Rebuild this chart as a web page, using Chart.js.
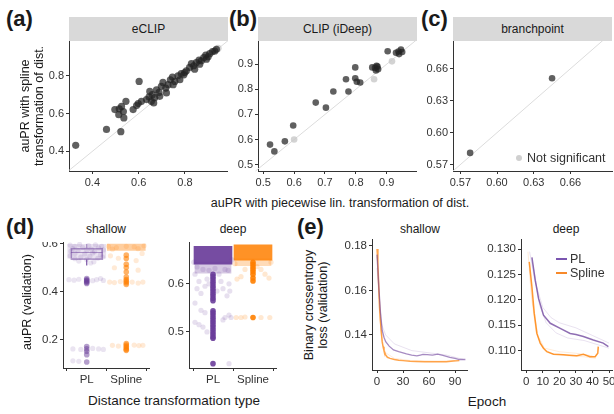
<!DOCTYPE html>
<html><head><meta charset="utf-8">
<script src="https://cdn.jsdelivr.net/npm/chart.js@4.4.1/dist/chart.umd.min.js"></script>
<style>
body{margin:0;background:#fff;}
#fig{position:relative;width:614px;height:414px;overflow:hidden;font-family:'Liberation Sans',Arial,sans-serif;color:#1a1a1a;}
canvas{position:absolute;}
.t{position:absolute;white-space:nowrap;line-height:1;}
.strip{position:absolute;top:17px;height:24px;line-height:24px;background:#d9d9d9;text-align:center;font-size:12px;color:#1a1a1a;}
.lt{font-weight:bold;font-size:22px;}
.rot{transform:translate(-50%,-50%) rotate(-90deg);text-align:center;}
.ctr{transform:translate(-50%,-50%);}
</style></head>
<body>
<div id="fig">
  <canvas id="ca" width="188" height="150" style="left:40px;top:41px"></canvas>
  <canvas id="cb" width="188" height="150" style="left:229px;top:41px"></canvas>
  <canvas id="cc" width="195" height="150" style="left:419px;top:41px"></canvas>
  <canvas id="cd1" width="117" height="146" style="left:33px;top:242px"></canvas>
  <canvas id="cd2" width="118" height="146" style="left:159px;top:242px"></canvas>
  <canvas id="ce1" width="130" height="151" style="left:338px;top:239px"></canvas>
  <canvas id="ce2" width="133" height="151" style="left:481px;top:239px"></canvas>

  <div class="strip" style="left:69px;width:159px">eCLIP</div>
  <div class="strip" style="left:258px;width:159px">CLIP (iDeep)</div>
  <div class="strip" style="left:453px;width:159px">branchpoint</div>

  <div class="t lt" style="left:6px;top:8px">(a)</div>
  <div class="t lt" style="left:229px;top:8px">(b)</div>
  <div class="t lt" style="left:421px;top:8px">(c)</div>
  <div class="t lt" style="left:6px;top:216px">(d)</div>
  <div class="t lt" style="left:297px;top:216px">(e)</div>

  <div class="t rot" style="left:32px;top:106px;font-size:12.5px;line-height:14px">auPR with spline<br>transformation of dist.</div>
  <div class="t ctr" style="left:340px;top:203px;font-size:12.5px">auPR with piecewise lin. transformation of dist.</div>

  <div class="t ctr" style="left:106px;top:229px;font-size:12px">shallow</div>
  <div class="t ctr" style="left:233px;top:229px;font-size:12px">deep</div>
  <div class="t rot" style="left:27px;top:302px;font-size:12.5px">auPR (validation)</div>
  <div class="t ctr" style="left:174px;top:401px;font-size:13.5px">Distance transformation type</div>

  <div class="t ctr" style="left:420px;top:229px;font-size:12px">shallow</div>
  <div class="t ctr" style="left:566px;top:229px;font-size:12px">deep</div>
  <div class="t rot" style="left:316px;top:305px;font-size:12.5px;line-height:14px">Binary crossentropy<br>loss (validation)</div>
  <div class="t ctr" style="left:487px;top:402px;font-size:13.5px">Epoch</div>

  <div style="position:absolute;left:516px;top:155px;width:6px;height:6px;border-radius:3px;background:#d0d0d0"></div>
  <div class="t" style="left:527px;top:152px;font-size:12.5px;color:#333">Not significant</div>

  <div style="position:absolute;left:556px;top:258px;width:11px;height:2px;background:#7a55b0"></div>
  <div class="t" style="left:570px;top:253px;font-size:12.5px;color:#333">PL</div>
  <div style="position:absolute;left:556px;top:272px;width:11px;height:2px;background:#f7892a"></div>
  <div class="t" style="left:570px;top:267px;font-size:12.5px;color:#333">Spline</div>
</div>
<script>
// ---- (a) eCLIP: auPR piecewise linear (x) vs spline (y)
const eclipPL = [0.328,0.461,0.523,0.602,0.497,0.516,0.534,0.514,0.536,0.545,0.526,0.576,0.591,0.598,
  0.612,0.634,0.645,0.648,0.659,0.669,0.677,0.688,0.698,0.705,0.717,0.727,0.737,0.746,0.756,0.770,
  0.784,0.795,0.806,0.820,0.828,0.838,0.849,0.861,0.871,0.881,0.890,0.900,0.907,0.919,0.929,0.936,
  0.655,0.665,0.691,0.720,0.749,0.778,0.799,0.842,0.864,0.893];
const eclipSpline = [0.432,0.516,0.504,0.770,0.621,0.625,0.611,0.594,0.577,0.665,0.638,0.621,0.642,0.653,
  0.665,0.674,0.688,0.717,0.700,0.684,0.726,0.712,0.744,0.765,0.735,0.753,0.779,0.793,0.770,0.800,
  0.812,0.805,0.826,0.844,0.865,0.853,0.870,0.883,0.879,0.896,0.910,0.900,0.917,0.928,0.931,0.940,
  0.665,0.656,0.691,0.709,0.753,0.779,0.817,0.835,0.861,0.888];
const eclipNsPL = [0.943];
const eclipNsSpline = [0.945];

// ---- (b) CLIP (iDeep)
const ideepPL = [0.522,0.536,0.570,0.597,0.670,0.703,0.727,0.768,0.776,0.798,0.798,0.803,0.814,
  0.853,0.862,0.867,0.870,0.865,0.872,0.903,0.930,0.938,0.946,0.940,0.950];
const ideepSpline = [0.580,0.553,0.593,0.656,0.747,0.727,0.791,0.840,0.791,0.887,0.844,0.830,0.827,
  0.887,0.885,0.893,0.890,0.875,0.880,0.951,0.945,0.950,0.958,0.940,0.948];
const ideepNsPL = [0.600,0.859,0.917];
const ideepNsSpline = [0.600,0.840,0.911];

// ---- (c) branchpoint
const branchPL = [0.578,0.645];
const branchSpline = [0.581,0.651];

const aTicks = ['0.4','0.6','0.8'];
const bTicks = ['0.5','0.6','0.7','0.8','0.9'];
const bTicksY = ['0.5','0.6','0.7','0.8','0.9'];
const cTicks = ['0.57','0.60','0.63','0.66'];

// ---- (d) auPR (validation) per distance transformation type, points as [jitter, auPR]
const dTypes = ['PL','Spline'];
const dShallowTicks = ['0.2','0.4','0.6'];
const dDeepTicks = ['0.5','0.6'];
const shallowPLBox = [0.510,0.534,0.564,0.582,0.600]; // min, q1, median, q3, max
const shallowPLCol = [0.455,0.450,0.446,0.442,0.438,0.434,0.170,0.160,0.150,0.136,0.105];
const shallowPLLight = [[-0.42,0.595],[-0.3,0.59],[-0.18,0.598],[0.05,0.593],[0.22,0.596],[0.38,0.59],
  [-0.35,0.58],[-0.1,0.585],[0.12,0.578],[0.3,0.583],[-0.4,0.57],[-0.22,0.572],[0,0.575],[0.2,0.568],
  [0.42,0.575],[-0.3,0.56],[-0.05,0.558],[0.15,0.562],[0.35,0.555],[-0.42,0.55],[-0.15,0.545],
  [0.08,0.548],[0.28,0.54],[-0.3,0.538],[0,0.535],[0.4,0.545],[-0.2,0.528],[0.18,0.525],[0.1,0.52],
  [-0.45,0.45],[-0.32,0.448],[-0.2,0.452],[0.15,0.446],[0.25,0.45],[0.35,0.455],[0.42,0.447],
  [-0.35,0.16],[-0.15,0.158],[0.15,0.162],[0.3,0.16],[0.42,0.158],[-0.35,0.11],[-0.2,0.108]];
const shallowPLBand = [0.540,0.598];
const shallowSplineBand = [0.573,0.599];
const shallowSplineCol = [0.553,0.539,0.515,0.501,0.482,0.461,0.451,0.444,0.437,0.430,
  0.182,0.176,0.170,0.164,0.158,0.154];
const shallowSplineLight = [[-0.4,0.55],[-0.2,0.54],[0.25,0.53],[0.4,0.56],[-0.3,0.5],[0.3,0.49],
  [-0.42,0.44],[-0.3,0.438],[-0.15,0.442],[0.15,0.44],[0.3,0.436],[0.42,0.44],
  [-0.35,0.175],[-0.2,0.172],[0.2,0.176],[0.32,0.174],[0.42,0.175],
  [-0.45,0.59],[-0.25,0.585],[0,0.59],[0.2,0.588],[0.45,0.592],[-0.35,0.578],[0.3,0.58]];

const deepPLBand = [0.641,0.678];
const deepPLFade = [0.622,0.645];
const deepPLCol = [0.620,0.615,0.610,0.605,0.600,0.595,0.590,0.585,0.580,0.575,0.570,0.565,
  0.544,0.540,0.535,0.530,0.525,0.520,0.515,0.510,0.505,0.500,0.495,0.490,0.487,0.434];
const deepPLLight = [[-0.45,0.62],[-0.35,0.605],[-0.25,0.63],[-0.15,0.61],[0.15,0.62],[0.3,0.63],
  [0.4,0.6],[-0.4,0.59],[-0.2,0.595],[0.25,0.59],[0.35,0.575],[-0.3,0.58],[-0.45,0.56],[0.42,0.585],
  [-0.1,0.6],[0.1,0.585],[0.2,0.605],[-0.3,0.545],[-0.2,0.54],[0.3,0.53],[0.4,0.535],[-0.45,0.52],
  [-0.35,0.515],[-0.25,0.51],[0.25,0.525],[-0.15,0.5],[0.45,0.53],[0.4,0.434],
  [-0.4,0.635],[-0.1,0.628],[0.05,0.632],[0.38,0.628],[-0.48,0.645],[0.48,0.65]];
const deepSplineBand = [0.649,0.681];
const deepSplineFade = [0.638,0.652];
const deepSplineCol = [0.645,0.640,0.635,0.630,0.625,0.620,0.612,0.606,0.530];
const deepSplineLight = [[-0.4,0.61],[-0.3,0.615],[0.3,0.62],[0.4,0.612],[0.2,0.63],[-0.2,0.63],
  [-0.42,0.53],[-0.3,0.53],[-0.2,0.531],[0.2,0.53],[0.42,0.53],[-0.45,0.642],[0.45,0.645],[0.1,0.636]];

// ---- (e) validation loss per epoch
const eShallowTicksX = ['0','30','60','90'];
const eShallowTicksY = ['0.14','0.16','0.18'];
const eDeepTicksX = ['0','10','20','30','40','50'];
const eDeepTicksY = ['0.110','0.115','0.120','0.125','0.130'];

const shallowEpochPL = [0,2,4,6,8,10,14,19,25,34,40,46,50,53,58,64,70,76,84,90,95,102];
const shallowLossPL = [0.176,0.162,0.150,0.142,0.139,0.137,0.135,0.1333,0.1325,0.1315,0.131,0.1306,
  0.131,0.1313,0.1312,0.131,0.1314,0.1308,0.130,0.1295,0.129,0.129];
const shallowEpochSpline = [0,1,2,3,4,5,6,7,8,10,12,15,20,25,30,38,45,55,65,72,80,88,95];
const shallowLossSpline = [0.1785,0.172,0.162,0.152,0.146,0.141,0.137,0.1347,0.133,0.131,0.130,0.1295,
  0.129,0.1287,0.1285,0.1282,0.1281,0.128,0.128,0.128,0.128,0.1283,0.1285];
const shallowRunEpochPL = [0,5,10,20,40,60,80,100];
const shallowRunLossPL = [0.170,0.145,0.140,0.136,0.133,0.132,0.131,0.129];
const shallowRunEpochSpline = [0,3,6,10,20,40,70,90];
const shallowRunLossSpline = [0.175,0.148,0.136,0.132,0.1295,0.1285,0.1283,0.1285];

const deepEpochPL = [3.4,5.4,7.4,10.4,14.5,20.5,26.5,30,34.5,40.5,46.5,49.6];
const deepLossPL = [0.1284,0.1239,0.1203,0.117,0.1154,0.1144,0.1134,0.1132,0.1128,0.1121,0.1115,0.1108];
const deepEpochSpline = [1.8,3.4,4.8,6.4,8.4,10.4,12.4,16.4,22.5,26,30.5,34.5,38.5,41.6,43.2,43.5];
const deepLossSpline = [0.1275,0.1226,0.1174,0.1134,0.1115,0.1105,0.1098,0.1093,0.1092,0.1091,0.109,
  0.1093,0.1088,0.1088,0.1095,0.1108];
const deepRunEpochPL1 = [2,5,10,15,20,30,40,50];
const deepRunLossPL1 = [0.1295,0.124,0.1185,0.1165,0.1155,0.1145,0.113,0.1115];
const deepRunEpochPL2 = [4,8,12,18,25,35,45,50];
const deepRunLossPL2 = [0.127,0.119,0.1155,0.1135,0.1125,0.112,0.111,0.1105];
const deepRunEpochSpline1 = [1,3,6,10,15,25,35,42];
const deepRunLossSpline1 = [0.1295,0.121,0.1135,0.1105,0.1095,0.109,0.1088,0.1085];
const deepRunEpochSpline2 = [2,4,7,11,20,30,40];
const deepRunLossSpline2 = [0.126,0.119,0.113,0.1105,0.1098,0.1095,0.109];

const pur = a => `rgba(106,61,154,${a})`;
const ora = a => `rgba(255,127,0,${a})`;

Chart.defaults.font.family = "'Liberation Sans', Arial, sans-serif";
Chart.defaults.color = '#333';

const xy = (xs, ys) => xs.map((x, i) => ({x: x, y: ys[i]}));
const jit = (pts, c) => pts.map(p => ({x: c + p[0], y: p[1]}));
const col = (vals, c) => vals.map(v => ({x: c, y: v}));

function fitX(h) { return s => { s.height = h; s.paddingLeft = 0; s.paddingRight = 0; }; }
function fitY(w) { return s => { s.width = w; s.paddingTop = 0; s.paddingBottom = 0; }; }

function axis(pos, min, max, vals, labels, fit, size) {
  return {
    type: 'linear', position: pos, min: min, max: max, offset: false,
    border: {display: true, color: '#333', width: 1},
    grid: {display: true, drawOnChartArea: false, drawTicks: true, tickLength: 3, color: '#333'},
    ticks: {color: '#333', font: {size: size}, padding: 2, maxRotation: 0, autoSkip: false,
      callback: (v, i) => labels[i]},
    afterBuildTicks: s => { s.ticks = vals.map(v => ({value: v})); },
    afterFit: fit
  };
}
const nums = arr => arr.map(parseFloat);

function opts(x, y, padRight) {
  return {
    responsive: false, animation: false, devicePixelRatio: 1, events: [],
    layout: {autoPadding: false, padding: {left: 0, top: 0, right: padRight || 0, bottom: 0}},
    plugins: {legend: {display: false}, tooltip: {enabled: false}},
    scales: {x: x, y: y}
  };
}

function pts(data, color, r, order) {
  return {type: 'scatter', data: data, pointRadius: r, pointBackgroundColor: color,
    pointBorderWidth: 0, clip: false, order: order};
}
function line(data, color, w, order) {
  return {type: 'line', data: data, borderColor: color, borderWidth: w, pointRadius: 0,
    fill: false, tension: 0, clip: false, order: order};
}
function band(data, colors, thick, order, border) {
  return {type: 'bar', data: data, backgroundColor: colors, barThickness: thick, grouped: false,
    borderSkipped: false, borderWidth: border ? 1 : 0, borderColor: border || 'transparent', order: order};
}

const DARK = 'rgba(35,35,35,0.72)', LIGHT = 'rgba(200,200,200,0.8)', DIAG = '#dcdcdc';

// (a)
new Chart(document.getElementById('ca'), {
  type: 'scatter',
  data: {datasets: [
    pts(xy(eclipPL, eclipSpline), DARK, 3.6, 1),
    pts(xy(eclipNsPL, eclipNsSpline), LIGHT, 3.6, 2),
    line([{x: 0.299, y: 0.299}, {x: 0.986, y: 0.986}], DIAG, 1, 5)
  ]},
  options: opts(axis('bottom', 0.299, 0.986, nums(aTicks), aTicks, fitX(20), 11),
                axis('left', 0.296, 0.984, nums(aTicks), aTicks, fitY(29), 11))
});

// (b)
new Chart(document.getElementById('cb'), {
  type: 'scatter',
  data: {datasets: [
    pts(xy(ideepPL, ideepSpline), DARK, 3.3, 1),
    pts(xy(ideepNsPL, ideepNsSpline), LIGHT, 3.3, 2),
    line([{x: 0.475, y: 0.475}, {x: 0.998, y: 0.998}], DIAG, 1, 5)
  ]},
  options: opts(axis('bottom', 0.483, 0.998, nums(bTicks), bTicks, fitX(20), 11),
                axis('left', 0.475, 0.992, nums(bTicksY), bTicksY, fitY(29), 11))
});

// (c)
new Chart(document.getElementById('cc'), {
  type: 'scatter',
  data: {datasets: [
    pts(xy(branchPL, branchSpline), DARK, 3.3, 1),
    line([{x: 0.564, y: 0.564}, {x: 0.694, y: 0.694}], DIAG, 1, 5)
  ]},
  options: opts(axis('bottom', 0.564, 0.694, nums(cTicks), cTicks, fitX(20), 11),
                axis('left', 0.564, 0.686, nums(cTicks), cTicks, fitY(34), 11), 2)
});

// (d) shallow
new Chart(document.getElementById('cd1'), {
  type: 'scatter',
  data: {datasets: [
    pts(col(shallowPLCol, 1), pur(0.5), 2.8, 1),
    pts(col(shallowSplineCol, 2), ora(0.6), 2.8, 1),
    line([{x: 0.6, y: shallowPLBox[2]}, {x: 1.4, y: shallowPLBox[2]}], pur(0.5), 1, 2),
    line([{x: 1, y: shallowPLBox[3]}, {x: 1, y: shallowPLBox[4]}], pur(0.5), 1, 2),
    line([{x: 1, y: shallowPLBox[1]}, {x: 1, y: shallowPLBox[0]}], pur(0.5), 1, 2),
    band([{x: 1, y: [shallowPLBox[1], shallowPLBox[3]]}], 'rgba(255,255,255,0)', 32, 3, pur(0.5)),
    pts(jit(shallowPLLight, 1), pur(0.14), 2.6, 4),
    pts(jit(shallowSplineLight, 2), ora(0.16), 2.6, 4),
    band([{x: 1, y: shallowPLBand}, {x: 2, y: shallowSplineBand}], [pur(0.15), ora(0.38)], 38, 6)
  ]},
  options: opts(axis('bottom', 0.4, 2.6, [1, 2], dTypes, fitX(20), 11.5),
                axis('left', 0.08, 0.608, nums(dShallowTicks), dShallowTicks, fitY(30), 11.5))
});

// (d) deep
new Chart(document.getElementById('cd2'), {
  type: 'scatter',
  data: {datasets: [
    pts(col(deepPLCol, 1), pur(0.9), 2.8, 1),
    pts(col(deepSplineCol, 2), ora(0.9), 2.8, 1),
    pts(jit(deepPLLight, 1), pur(0.16), 2.6, 4),
    pts(jit(deepSplineLight, 2), ora(0.18), 2.6, 4),
    band([{x: 1, y: deepPLBand}, {x: 2, y: deepSplineBand}], [pur(0.92), ora(0.85)], 38, 5),
    band([{x: 1, y: deepPLFade}, {x: 2, y: deepSplineFade}], [pur(0.28), ora(0.28)], 36, 6)
  ]},
  options: opts(axis('bottom', 0.4, 2.6, [1, 2], dTypes, fitX(20), 11.5),
                axis('left', 0.425, 0.687, nums(dDeepTicks), dDeepTicks, fitY(30), 11.5))
});

// (e) shallow
new Chart(document.getElementById('ce1'), {
  type: 'scatter',
  data: {datasets: [
    line(xy(shallowEpochPL, shallowLossPL), pur(0.6), 1.3, 1),
    line(xy(shallowEpochSpline, shallowLossSpline), ora(0.7), 1.5, 2),
    line(xy(shallowRunEpochPL, shallowRunLossPL), pur(0.15), 1, 5),
    line(xy(shallowRunEpochSpline, shallowRunLossSpline), ora(0.15), 1, 5)
  ]},
  options: opts(axis('bottom', -5.8, 105, nums(eShallowTicksX), eShallowTicksX, fitX(20), 11.5),
                axis('left', 0.1243, 0.183, nums(eShallowTicksY), eShallowTicksY, fitY(34), 11.5))
});

// (e) deep
new Chart(document.getElementById('ce2'), {
  type: 'scatter',
  data: {datasets: [
    line(xy(deepEpochPL, deepLossPL), pur(0.75), 1.5, 1),
    line(xy(deepEpochSpline, deepLossSpline), ora(0.8), 1.5, 2),
    line(xy(deepRunEpochPL1, deepRunLossPL1), pur(0.15), 1, 5),
    line(xy(deepRunEpochPL2, deepRunLossPL2), pur(0.15), 1, 5),
    line(xy(deepRunEpochSpline1, deepRunLossSpline1), ora(0.15), 1, 5),
    line(xy(deepRunEpochSpline2, deepRunLossSpline2), ora(0.15), 1, 5)
  ]},
  options: opts(axis('bottom', -3.2, 51.8, nums(eDeepTicksX), eDeepTicksX, fitX(20), 11.5),
                axis('left', 0.1062, 0.132, nums(eDeepTicksY), eDeepTicksY, fitY(40), 11.5), 2)
});
</script>
</body></html>
